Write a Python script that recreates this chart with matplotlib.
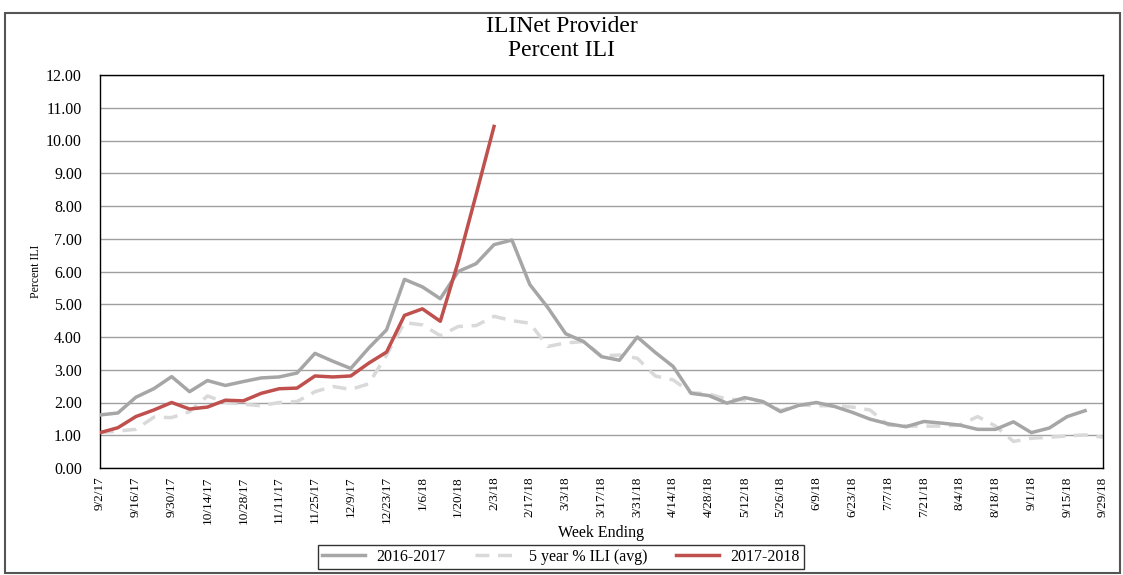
import matplotlib
matplotlib.use("Agg")
import matplotlib.pyplot as plt
from matplotlib.patches import Rectangle

week_labels = ["9/2/17", "9/16/17", "9/30/17", "10/14/17", "10/28/17", "11/11/17",
               "11/25/17", "12/9/17", "12/23/17", "1/6/18", "1/20/18", "2/3/18",
               "2/17/18", "3/3/18", "3/17/18", "3/31/18", "4/14/18", "4/28/18",
               "5/12/18", "5/26/18", "6/9/18", "6/23/18", "7/7/18", "7/21/18",
               "8/4/18", "8/18/18", "9/1/18", "9/15/18", "9/29/18"]

season_1617 = [1.62, 1.68, 2.16, 2.42, 2.79, 2.33, 2.67, 2.52, 2.64, 2.75, 2.78, 2.90,
               3.50, 3.26, 3.04, 3.66, 4.22, 5.76, 5.53, 5.17, 6.00, 6.24, 6.82, 6.96,
               5.60, 4.90, 4.10, 3.86, 3.40, 3.29, 4.00, 3.53, 3.10, 2.28, 2.21, 1.98,
               2.15, 2.03, 1.72, 1.91, 2.00, 1.88, 1.70, 1.49, 1.35, 1.26, 1.42, 1.37,
               1.31, 1.18, 1.18, 1.41, 1.08, 1.22, 1.57, 1.75]

five_year_avg = [1.08, 1.13, 1.18, 1.55, 1.54, 1.72, 2.20, 2.00, 1.95, 1.90, 2.00, 2.03,
                 2.33, 2.49, 2.40, 2.57, 3.45, 4.44, 4.37, 4.04, 4.32, 4.35, 4.63, 4.50,
                 4.42, 3.71, 3.82, 3.86, 3.42, 3.45, 3.35, 2.81, 2.69, 2.30, 2.26, 2.10,
                 2.08, 2.02, 1.75, 1.93, 1.90, 1.90, 1.86, 1.77, 1.31, 1.28, 1.28, 1.28,
                 1.31, 1.57, 1.28, 0.81, 0.91, 0.94, 0.98, 1.01, 0.94]

season_1718 = [1.08, 1.23, 1.57, 1.77, 2.00, 1.80, 1.86, 2.07, 2.05, 2.28, 2.42, 2.44,
               2.81, 2.78, 2.81, 3.20, 3.54, 4.66, 4.86, 4.48, 6.30, 8.35, 10.43]

y_ticks = [0, 1, 2, 3, 4, 5, 6, 7, 8, 9, 10, 11, 12]

plt.rcParams['font.family'] = ['Liberation Serif', 'DejaVu Serif']

fig = plt.figure(figsize=(11.23, 5.75), dpi=100)
fig.patches.append(Rectangle((5 / 1123, 2 / 575), 1115 / 1123, 560 / 575,
                             transform=fig.transFigure, fill=False,
                             edgecolor='#555555', linewidth=1.5))

ax = fig.add_axes([100 / 1123, 1 - 468 / 575, 1003 / 1123, 393 / 575])

n_weeks = 2 * (len(week_labels) - 1)
ax.set_xlim(0, n_weeks)
ax.set_ylim(0, 12)

ax.plot(range(len(season_1617)), season_1617, color='#a6a6a6', lw=2.5,
        label='2016-2017', zorder=3)
ax.plot(range(len(five_year_avg)), five_year_avg, color='#d9d9d9', lw=2.5,
        ls=(0, (4, 2.5)), label='5 year % ILI (avg)', zorder=2)
ax.plot(range(len(season_1718)), season_1718, color='#c0504d', lw=2.5,
        label='2017-2018', zorder=4)

ax.set_yticks(y_ticks)
ax.set_yticklabels([f"{v:.2f}" for v in y_ticks], fontsize=11.5)
ax.set_xticks(range(0, n_weeks + 1, 2))
ax.set_xticklabels(week_labels, rotation=90, fontsize=9.5)
ax.tick_params(axis='x', length=0, pad=6)
ax.tick_params(axis='y', length=0, pad=13)

ax.grid(axis='y', color='#a0a0a0', lw=1)
ax.set_axisbelow(True)
for s in ax.spines.values():
    s.set_color('black')
    s.set_linewidth(1)

ax.set_ylabel('Percent ILI', fontsize=8.5, labelpad=3)
ax.set_xlabel('Week Ending', fontsize=11.5, labelpad=1)

fig.text(0.5, 1 - 27 / 575, 'ILINet Provider', ha='center', va='center', fontsize=17)
fig.text(0.5, 1 - 51 / 575, 'Percent ILI', ha='center', va='center', fontsize=17)

leg = fig.legend(loc='center', bbox_to_anchor=(561 / 1123, 1 - 557 / 575), ncol=3,
                 fontsize=11.5, frameon=True, fancybox=False, edgecolor='black',
                 handlelength=2.7, handletextpad=0.7, columnspacing=1.8,
                 borderpad=0.25, borderaxespad=0)
leg.get_frame().set_linewidth(1)

fig.savefig('out.png', dpi=100)
